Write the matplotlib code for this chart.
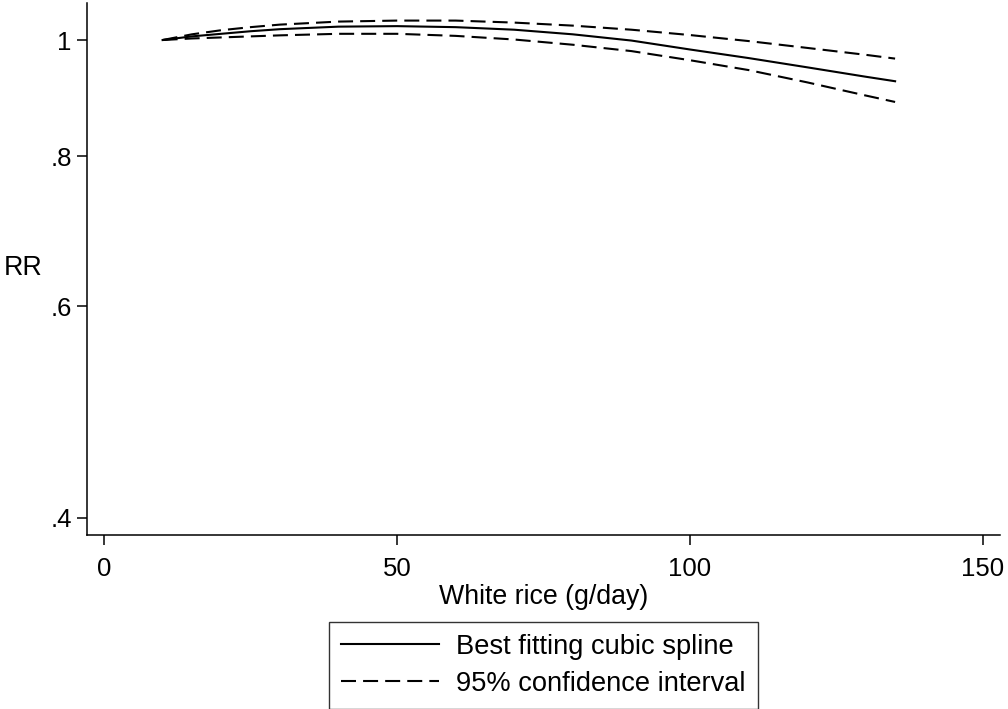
import matplotlib
matplotlib.use("Agg")
import matplotlib.pyplot as plt
from matplotlib.ticker import FixedLocator, NullLocator

plt.rcParams['font.family'] = ['Liberation Sans', 'DejaVu Sans']

# White rice intake (g/day) and relative risk estimates
rice = [10, 15, 20, 25, 30, 40, 50, 60, 70, 80, 90, 100, 110, 120, 130, 135]
rr_fit = [1.000, 1.007, 1.012, 1.017, 1.021, 1.026, 1.027, 1.025, 1.020,
          1.011, 0.999, 0.982, 0.966, 0.949, 0.932, 0.924]
rr_upper = [1.000, 1.011, 1.019, 1.025, 1.030, 1.036, 1.038, 1.038, 1.034,
            1.028, 1.020, 1.0096, 0.998, 0.985, 0.972, 0.965]
rr_lower = [1.000, 1.003, 1.005, 1.007, 1.009, 1.012, 1.012, 1.008, 1.001,
            0.991, 0.979, 0.962, 0.944, 0.922, 0.899, 0.888]

x_ticks = [0, 50, 100, 150]
y_ticks = [0.4, 0.6, 0.8, 1.0]
y_tick_labels = [".4", ".6", ".8", "1"]

fig = plt.figure(figsize=(10.08, 7.09), dpi=100)
ax = fig.add_axes([87 / 1008, 1 - 535 / 709, (1000 - 87) / 1008, (535 - 3) / 709])

fs = 19.3
leg_fs = 19.6
tick_fs = 18.5
dash = (0, (7.2, 3.4))
line_fit, = ax.plot(rice, rr_fit, color='black', lw=1.5,
                    label='Best fitting cubic spline')
line_ci, = ax.plot(rice, rr_upper, color='black', lw=1.5,
                   linestyle=dash, label='95% confidence interval')
ax.plot(rice, rr_lower, color='black', lw=1.5, linestyle=dash)

ax.set_yscale('log')
ax.set_xlim(-2.9, 152.9)
ax.set_ylim(0.387, 1.0736)

ax.yaxis.set_major_locator(FixedLocator(y_ticks))
ax.yaxis.set_minor_locator(NullLocator())
ax.set_yticklabels(y_tick_labels)
ax.set_xticks(x_ticks)
ax.set_xticklabels([str(t) for t in x_ticks])

for side in ('top', 'right'):
    ax.spines[side].set_visible(False)
for side in ('left', 'bottom'):
    ax.spines[side].set_linewidth(1.1)
ax.tick_params(axis='both', length=7, width=1.1, labelsize=tick_fs)
ax.tick_params(axis='x', pad=8.5)
ax.tick_params(axis='y', pad=4)

ax.set_xlabel('White rice (g/day)', fontsize=fs, labelpad=2.5)
ax.set_ylabel('RR', fontsize=fs, rotation=0, va='center', ha='center')
ax.yaxis.set_label_coords(-0.070, 0.502)

leg = fig.legend(handles=[line_fit, line_ci], loc='upper center',
                 bbox_to_anchor=(543.5 / 1008, 1 - 621.5 / 709), fontsize=leg_fs,
                 frameon=True, fancybox=False, shadow=False, handlelength=3.6,
                 handletextpad=0.62, borderpad=0.45, labelspacing=0.40,
                 borderaxespad=0)
leg.get_frame().set_edgecolor('black')
leg.get_frame().set_linewidth(1.0)

fig.savefig('out.png', dpi=100, facecolor='white')
